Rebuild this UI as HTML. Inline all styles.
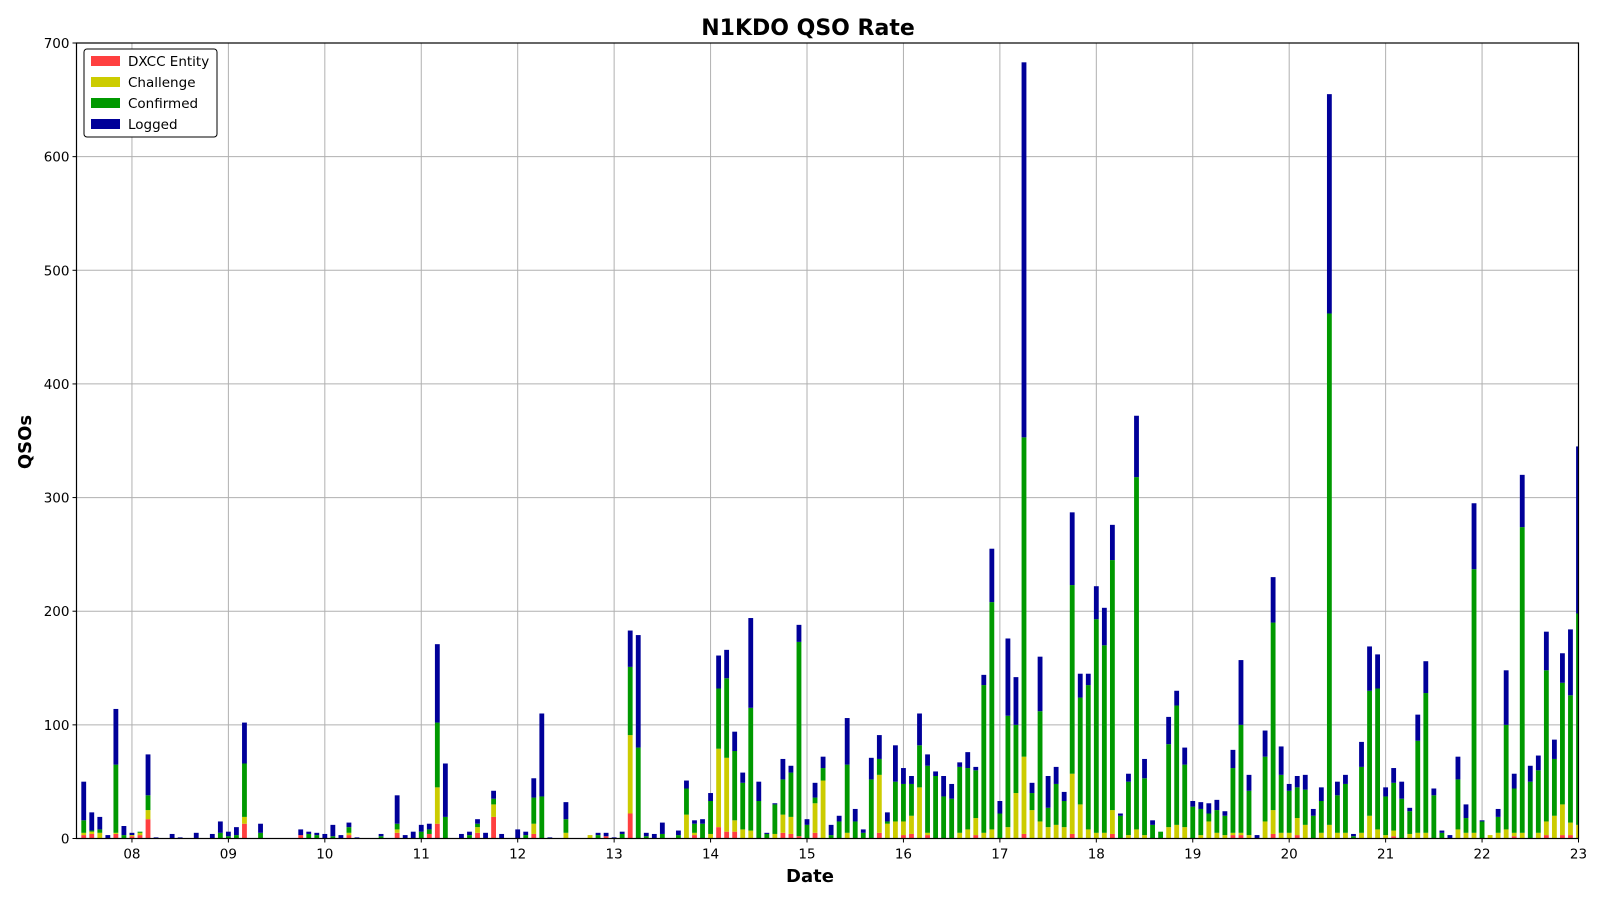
<!DOCTYPE html>
<html><head><meta charset="utf-8"><title>N1KDO QSO Rate</title>
<style>
html,body{margin:0;padding:0;background:#fff;}
svg{display:block;font-family:"DejaVu Sans","Liberation Sans",sans-serif;}
</style></head>
<body>
<svg id="chart" width="1600" height="900" viewBox="0 0 1600 900" xmlns="http://www.w3.org/2000/svg">
<rect x="0" y="0" width="1600" height="900" fill="#fff"/>
<text x="808" y="35" text-anchor="middle" font-size="22" font-weight="bold" fill="#000">N1KDO QSO Rate</text>
<g id="grid"></g>
<g id="bars"></g>
<g id="axes"></g>
<text x="810" y="882" text-anchor="middle" font-size="18" font-weight="bold">Date</text>
<text transform="translate(31,442) rotate(-90)" text-anchor="middle" font-size="18" font-weight="bold">QSOs</text>
<g>
<rect x="84" y="49" width="133" height="88" rx="3" fill="#fff" stroke="#000" stroke-width="1"/>
<g><rect x="91" y="56" width="29" height="10" fill="#ff3f3f"/><text x="128" y="66" font-size="13.5">DXCC Entity</text></g>
<g><rect x="91" y="77" width="29" height="10" fill="#cccc00"/><text x="128" y="87" font-size="13.5">Challenge</text></g>
<g><rect x="91" y="98" width="29" height="10" fill="#009900"/><text x="128" y="108" font-size="13.5">Confirmed</text></g>
<g><rect x="91" y="119" width="29" height="10" fill="#000099"/><text x="128" y="129" font-size="13.5">Logged</text></g>
</g>
</svg>
<script>
// Data: 2-hour bins starting 7th 12:00 (hours relative to day 08 00:00)
const startHour = -12;
const binHours = 2;
const xTickLabels = ["08","09","10","11","12","13","14","15","16","17","18","19","20","21","22","23"];
const yTickLabels = ["0","100","200","300","400","500","600","700"];
const dxcc = [3,4,0,0,4,0,
2,3,17,0,0,0,0,0,0,0,0,0,
0,0,13,0,0,0,0,0,0,3,0,0,
0,0,0,3,0,0,0,0,0,5,0,0,
0,4,13,0,0,0,0,5,0,19,0,0,
0,0,4,0,0,0,0,0,0,0,0,2,
0,0,22,0,0,0,0,0,0,0,3,0,
0,10,6,6,0,0,0,0,0,5,4,2,
0,5,0,0,0,0,0,0,0,5,0,0,
3,4,0,3,0,0,0,0,0,3,0,0,
0,0,0,4,0,0,0,0,0,4,0,0,
0,0,4,0,0,0,0,0,0,0,0,0,
0,0,0,0,0,3,3,0,0,0,4,0,
0,3,0,0,0,0,0,0,0,0,0,0,
0,2,0,0,0,0,0,0,0,0,0,0,
0,0,0,0,2,0,0,0,3,0,3,3,
0];
const challenge = [2,2,5,0,1,0,
1,2,8,0,0,0,0,0,0,0,0,0,
0,0,6,0,0,0,0,0,0,0,0,0,
0,0,0,2,0,0,0,0,0,3,0,0,
0,0,32,0,0,0,0,5,0,11,0,0,
0,0,9,0,0,0,5,0,0,3,0,0,
0,0,69,0,0,0,0,0,0,21,2,0,
4,69,65,10,8,7,0,0,4,16,15,0,
0,26,51,0,0,5,0,0,0,51,13,15,
12,16,45,2,0,0,0,5,8,15,5,8,
0,10,40,68,25,15,10,12,10,53,30,8,
5,5,21,0,3,8,3,0,0,10,12,10,
0,3,15,5,3,2,2,3,0,15,21,5,
5,15,12,0,5,12,5,5,0,5,20,8,
3,5,0,4,5,5,0,0,0,8,5,5,
0,3,5,8,3,5,0,5,12,20,27,11,
12];
const confirmed = [11,1,3,0,60,3,
0,1,13,0,0,0,0,0,0,0,0,5,
2,3,47,0,5,0,0,0,0,0,4,3,
0,2,0,5,0,0,0,2,0,5,0,0,
6,4,57,19,0,0,3,3,0,5,0,0,
0,3,23,37,0,0,12,0,0,0,3,0,
0,4,60,80,2,0,4,0,3,23,8,13,
29,53,70,61,41,108,33,4,26,31,39,171,
12,5,11,3,15,60,15,5,52,14,2,35,
33,28,37,59,55,37,35,58,54,42,130,200,
22,98,60,281,15,97,17,36,23,166,94,127,
188,165,220,20,47,310,50,12,6,73,105,55,
28,23,7,20,17,57,95,39,0,57,165,51,
37,27,31,20,28,450,33,43,2,58,110,124,
34,42,35,20,81,123,38,5,0,44,13,232,
15,0,14,92,39,269,50,55,133,50,107,112,
186];
const logged = [34,16,11,3,49,8,
2,0,36,1,0,4,1,0,5,0,4,10,
4,7,36,0,8,0,0,0,0,5,2,2,
4,10,3,4,1,0,0,2,0,25,3,6,
6,5,69,47,0,4,3,4,5,7,4,0,
8,3,17,73,1,0,15,0,0,0,2,3,
1,2,32,99,3,4,10,0,4,7,3,4,
7,29,25,17,9,79,17,1,1,18,6,15,
5,13,10,9,5,41,11,3,19,21,8,32,
14,7,28,10,4,18,13,4,14,3,9,47,
11,68,42,330,9,48,28,15,8,64,21,10,
29,33,31,2,7,54,17,4,0,24,13,15,
5,6,9,9,4,16,57,14,3,23,40,25,
6,10,13,6,12,193,12,8,2,22,39,30,
8,13,15,3,23,28,6,2,3,20,12,58,
1,0,7,48,13,46,14,13,34,17,26,58,
147];

const NS = "http://www.w3.org/2000/svg";
const plotL = 76.5, plotR = 1578.5, plotT = 43, plotB = 838.5;
const hMin = -13.8, hMax = 360, yMax = 700;
function xScale(h){ return plotL + (h - hMin) / (hMax - hMin) * (plotR - plotL); }
function yScale(v){ return plotB - v / yMax * (plotB - plotT); }
function mk(tag, attrs, parent){ const e = document.createElementNS(NS, tag); for (const k in attrs) e.setAttribute(k, attrs[k]); parent.appendChild(e); return e; }

const grid = document.getElementById('grid');
const axes = document.getElementById('axes');
const barsG = document.getElementById('bars');

xTickLabels.forEach((lab, i) => {
  const x = xScale(i * 24);
  const gl = mk('line', {x1:x, x2:x, y1:plotT, y2:plotB, stroke:'#b0b0b0', 'stroke-width':1}, grid);
  
  
  const tk = mk('line', {x1:x, x2:x, y1:plotB, y2:plotB+4, stroke:'#000', 'stroke-width':1}, axes);
  
  
  const t = mk('text', {x:x, y:plotB+20, 'text-anchor':'middle', 'font-size':13.5}, axes);
  t.textContent = lab;
  
  
});
yTickLabels.forEach((lab) => {
  const y = yScale(parseFloat(lab));
  const gl = mk('line', {x1:plotL, x2:plotR, y1:y, y2:y, stroke:'#b0b0b0', 'stroke-width':1}, grid);
  
  
  const tk = mk('line', {x1:plotL-4, x2:plotL, y1:y, y2:y, stroke:'#000', 'stroke-width':1}, axes);
  
  
  const t = mk('text', {x:plotL-7, y:y+5, 'text-anchor':'end', 'font-size':13.5}, axes);
  t.textContent = lab;
  
  
});

const series = [[dxcc,'#ff3f3f','bar-dxcc'],[challenge,'#cccc00','bar-challenge'],[confirmed,'#009900','bar-confirmed'],[logged,'#000099','bar-logged']];
const step = xScale(binHours) - xScale(0);
const bw = step * 0.6;
for (let i = 0; i < dxcc.length; i++) {
  const h = startHour + i * binHours;
  const xc = xScale(h);
  let base = 0;
  series.forEach(([arr, col, nm]) => {
    const v = arr[i] || 0;
    if (v > 0) {
      const y0 = yScale(base), y1 = yScale(base + v);
      const x0 = Math.max(xc - bw/2, plotL), x1 = Math.min(xc + bw/2, plotR);
      const r = mk('rect', {x:x0, y:y1, width:Math.max(0, x1-x0), height:y0-y1, fill:col}, barsG);
      
      
    }
    base += v;
  });
}
const frame = mk('rect', {x:plotL, y:plotT, width:plotR-plotL, height:plotB-plotT, fill:'none', stroke:'#000', 'stroke-width':1.2}, axes);


</script>
</body></html>
